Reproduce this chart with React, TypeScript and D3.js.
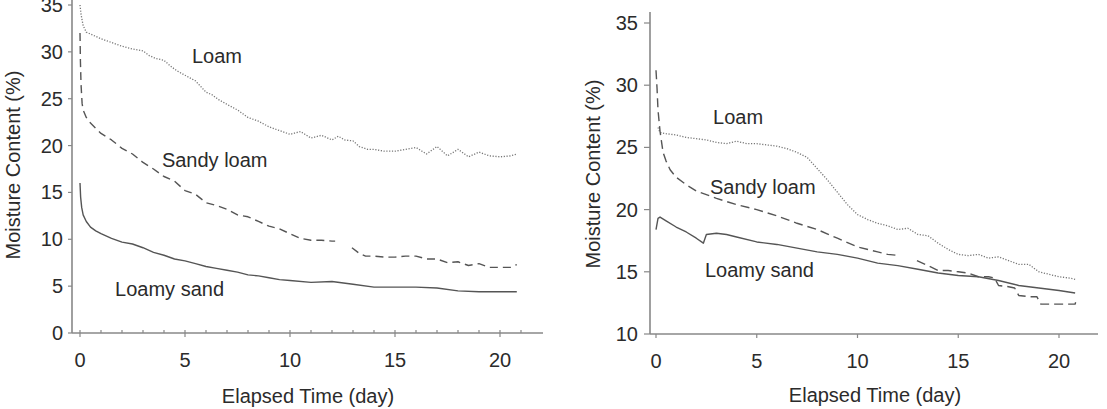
import React, { useEffect, useRef } from "react";
import * as d3 from "d3";

// ---- left panel ----
const leftLoamDays = [0, 0.05, 0.15, 0.3, 0.6, 1, 1.5, 2, 2.5, 3, 3.3, 3.6, 4, 4.3, 4.6, 5, 5.5, 6, 6.3, 6.6, 7, 7.5, 8, 8.5, 9, 9.5, 10, 10.5, 11, 11.5, 12, 12.3, 12.6, 13, 13.3, 13.7, 14, 14.5, 15, 15.5, 16, 16.5, 17, 17.5, 18, 18.5, 19, 19.5, 20, 20.5, 20.8];
const leftLoam = [35, 34, 32.8, 32.1, 31.8, 31.4, 31.0, 30.6, 30.3, 30.1, 29.6, 29.3, 29.1, 28.5, 28.0, 27.5, 26.9, 25.7, 25.4, 24.9, 24.4, 23.8, 23.0, 22.6, 22.0, 21.6, 21.2, 21.5, 20.8, 21.1, 20.6, 21.0, 20.6, 20.5, 19.9, 19.6, 19.6, 19.4, 19.4, 19.6, 19.8, 19.1, 19.9, 18.9, 19.6, 18.8, 19.3, 18.9, 18.8, 18.9, 19.1];

const leftSandyDays = [0, 0.02, 0.05, 0.1, 0.15, 0.3, 0.5, 1, 1.5, 2, 2.5, 3, 3.5, 4, 4.5, 5, 5.5, 6, 6.5, 7, 7.5, 8, 8.5, 9, 9.5, 10, 10.5, 11, 11.5, 12, 12.15, 12.5, 12.95, 13.3, 13.6, 14, 14.5, 15, 15.5, 16, 16.5, 17, 17.5, 18, 18.5, 19, 19.5, 20, 20.5, 20.8];
const leftSandy = [32, 29, 26.5, 24.5, 23.8, 23.0, 22.4, 21.3, 20.6, 19.7, 19.1, 18.2, 17.5, 16.7, 16.2, 15.2, 14.8, 13.9, 13.6, 13.2, 12.6, 12.4, 11.9, 11.4, 11.1, 10.6, 10.1, 9.9, 9.9, 9.8, 9.8, null, 9.1, 8.5, 8.2, 8.2, 8.1, 8.1, 8.2, 8.2, 7.9, 7.9, 7.5, 7.6, 7.2, 7.4, 7.0, 7.0, 7.0, 7.3];

const leftSandDays = [0, 0.03, 0.08, 0.15, 0.3, 0.5, 0.75, 1, 1.5, 2, 2.5, 3, 3.5, 4, 4.5, 5, 5.5, 6, 6.5, 7, 7.5, 8, 8.5, 9, 9.5, 10, 11, 12, 13, 14, 15, 16, 17, 18, 19, 20, 20.8];
const leftSand = [16.0, 14.5, 13.4, 12.6, 11.9, 11.3, 10.9, 10.6, 10.1, 9.7, 9.5, 9.1, 8.6, 8.3, 7.9, 7.7, 7.4, 7.1, 6.9, 6.7, 6.5, 6.2, 6.1, 5.9, 5.7, 5.6, 5.4, 5.5, 5.2, 4.9, 4.9, 4.9, 4.8, 4.5, 4.4, 4.4, 4.4];

// ---- right panel ----
const rightLoamDays = [0.1, 0.2, 0.5, 1, 1.5, 2, 2.5, 3, 3.5, 4, 4.5, 5, 5.5, 6, 6.5, 7, 7.5, 8, 8.5, 9, 9.5, 10, 10.5, 11, 11.5, 12, 12.5, 13, 13.5, 14, 14.5, 15, 15.5, 16, 16.5, 17, 17.5, 18, 18.5, 19, 19.5, 20, 20.5, 20.8];
const rightLoam = [26.6, 26.2, 26.1, 26.0, 25.8, 25.7, 25.6, 25.4, 25.3, 25.5, 25.3, 25.3, 25.2, 25.1, 24.9, 24.6, 24.2, 23.3, 22.4, 21.4, 20.4, 19.6, 19.2, 18.9, 18.7, 18.4, 18.5, 18.0, 17.9, 17.3, 16.8, 16.4, 16.3, 16.4, 16.1, 16.2, 15.9, 15.6, 15.6, 15.0, 14.8, 14.6, 14.5, 14.4];

const rightSandyDays = [0, 0.05, 0.1, 0.2, 0.35, 0.5, 0.7, 1, 1.5, 2, 3, 4, 5, 6, 7, 8, 9, 10, 11, 11.5, 12.1, 12.5, 12.95, 13.5, 14, 14.5, 15, 15.5, 16, 16.5, 16.8, 17.0, 17.5, 17.8, 18.0, 18.5, 18.9, 19.1, 19.5, 20, 20.5, 20.8, 20.85];
const rightSandy = [31.2, 29.8, 28.0, 26.3, 24.6, 23.9, 23.2, 22.6, 22.0, 21.5, 20.9, 20.4, 20.0, 19.5, 18.9, 18.4, 17.7, 17.0, 16.6, 16.4, 16.3, null, 15.9, 15.5, 15.1, 15.1, 15.0, 14.9, 14.6, 14.6, 14.5, 13.9, 13.8, 13.7, 13.1, 13.0, 13.0, 12.4, 12.4, 12.4, 12.4, 12.4, 12.7];

const rightSandDays = [0, 0.1, 0.2, 0.5, 1, 1.5, 2, 2.35, 2.5, 3, 3.5, 4, 5, 6, 7, 8, 9, 10, 11, 12, 13, 14, 15, 16, 17, 18, 19, 20, 20.8];
const rightSand = [18.4, 19.3, 19.4, 19.1, 18.6, 18.2, 17.7, 17.3, 18.0, 18.1, 18.0, 17.8, 17.4, 17.2, 16.9, 16.6, 16.4, 16.1, 15.7, 15.5, 15.2, 14.9, 14.7, 14.6, 14.3, 13.9, 13.7, 13.5, 13.3];

const xTicks = [0, 5, 10, 15, 20];
const leftYTicks = [0, 5, 10, 15, 20, 25, 30, 35];
const rightYTicks = [10, 15, 20, 25, 30, 35];
const soilNames = ["Loam", "Sandy loam", "Loamy sand"];

const FONT = "'Liberation Sans', Arial, sans-serif";
const TEXT = "#2b2b2b";
const AXIS = "#888";
const FS = "20px";

function drawPanel(svg, cfg) {
  const x = d3.scaleLinear().domain([0, 20]).range(cfg.xRange);
  const y = d3.scaleLinear().domain(cfg.yDomain).range(cfg.yRange);
  const g = svg.append("g");
  const base = y(cfg.yDomain[0]);

  // axis lines
  g.append("line")
    .attr("x1", cfg.axisLeft).attr("x2", cfg.axisLeft)
    .attr("y1", cfg.axisTop).attr("y2", base)
    .attr("stroke", AXIS).attr("stroke-width", 1.6);
  g.append("line")
    .attr("x1", cfg.axisLeft).attr("x2", cfg.axisRight)
    .attr("y1", base).attr("y2", base)
    .attr("stroke", AXIS).attr("stroke-width", 1.6);

  // minor ticks (every day), pointing up
  if (cfg.minor) {
    g.selectAll(".minor")
      .data(d3.range(0, 22))
      .enter()
      .append("line")
      .attr("x1", (d) => x(d)).attr("x2", (d) => x(d))
      .attr("y1", base - 3).attr("y2", base)
      .attr("stroke", AXIS).attr("stroke-width", 1.2);
  }

  g.selectAll(".xt")
    .data(xTicks)
    .enter()
    .append("line")
    .attr("x1", (d) => x(d)).attr("x2", (d) => x(d))
    .attr("y1", base).attr("y2", base + 4)
    .attr("stroke", AXIS).attr("stroke-width", 1.2);

  g.selectAll(".xl")
    .data(xTicks)
    .enter()
    .append("text")
    .attr("x", (d) => x(d))
    .attr("y", base + 34)
    .attr("text-anchor", "middle")
    .style("font-family", FONT).style("font-size", FS).attr("fill", TEXT)
    .text((d) => d);

  g.selectAll(".yt")
    .data(cfg.yTicks)
    .enter()
    .append("line")
    .attr("x1", cfg.axisLeft - cfg.ytick).attr("x2", cfg.axisLeft)
    .attr("y1", (d) => y(d)).attr("y2", (d) => y(d))
    .attr("stroke", AXIS).attr("stroke-width", 1.2);

  g.selectAll(".yl")
    .data(cfg.yTicks)
    .enter()
    .append("text")
    .attr("x", cfg.axisLeft - cfg.ytick - cfg.ypad)
    .attr("y", (d) => y(d))
    .attr("dy", "0.35em")
    .attr("text-anchor", "end")
    .style("font-family", FONT).style("font-size", FS).attr("fill", TEXT)
    .text((d) => d);

  // axis titles
  g.append("text")
    .attr("transform", "translate(" + cfg.yLabelX + "," + cfg.yLabelY + ") rotate(-90)")
    .attr("text-anchor", "middle")
    .style("font-family", FONT).style("font-size", FS).attr("fill", TEXT)
    .text("Moisture Content (%)");
  g.append("text")
    .attr("x", cfg.xLabelX).attr("y", cfg.xLabelY)
    .attr("text-anchor", "middle")
    .style("font-family", FONT).style("font-size", FS).attr("fill", TEXT)
    .text("Elapsed Time (day)");

  // series
  const line = d3
    .line()
    .defined((d) => d[1] !== null)
    .x((d) => x(d[0]))
    .y((d) => y(d[1]));

  cfg.series.forEach((s) => {
    const pts = s.days.map((d, i) => [d, s.values[i]]);
    g.append("path")
      .attr("d", line(pts))
      .attr("fill", "none")
      .attr("stroke", s.color)
      .attr("stroke-width", s.width)
      .attr("stroke-dasharray", s.dash)
      .attr("stroke-linejoin", "round");
  });

  // in-plot labels
  cfg.labels.forEach((l, i) => {
    g.append("text")
      .attr("x", x(l[0]))
      .attr("y", y(l[1]))
      .style("font-family", FONT).style("font-size", FS).attr("fill", TEXT)
      .text(soilNames[i]);
  });
}

export default function App() {
  const ref = useRef(null);

  useEffect(() => {
    const svg = d3.select(ref.current);
    svg.selectAll("*").remove();

    drawPanel(svg, {
      xRange: [80, 500],
      yDomain: [0, 35],
      yRange: [333, 5],
      yTicks: leftYTicks,
      axisLeft: 72,
      axisRight: 543,
      axisTop: 0,
      minor: true,
      ytick: 4,
      ypad: 5,
      yLabelX: 20,
      yLabelY: 165,
      xLabelX: 308,
      xLabelY: 403,
      series: [
        { days: leftLoamDays, values: leftLoam, color: "#777", width: 1.3, dash: "1.2 1.6" },
        { days: leftSandyDays, values: leftSandy, color: "#555", width: 1.4, dash: "8 5" },
        { days: leftSandDays, values: leftSand, color: "#555", width: 1.4, dash: null },
      ],
      labels: [[5.33, 28.8], [3.9, 17.7], [1.67, 4.0]],
    });

    drawPanel(svg, {
      xRange: [656, 1059],
      yDomain: [10, 35],
      yRange: [334, 23],
      yTicks: rightYTicks,
      axisLeft: 650,
      axisRight: 1098,
      axisTop: 12,
      minor: false,
      ytick: 6,
      ypad: 6,
      yLabelX: 600,
      yLabelY: 174,
      xLabelX: 875,
      xLabelY: 402,
      series: [
        { days: rightLoamDays, values: rightLoam, color: "#777", width: 1.3, dash: "1.2 1.6" },
        { days: rightSandyDays, values: rightSandy, color: "#555", width: 1.4, dash: "9 5" },
        { days: rightSandDays, values: rightSand, color: "#555", width: 1.4, dash: null },
      ],
      labels: [[2.83, 26.9], [2.68, 21.25], [2.43, 14.58]],
    });
  }, []);

  return (
    <svg
      ref={ref}
      width={1107}
      height={409}
      style={{ position: "absolute", left: 0, top: 0, background: "#fff" }}
    />
  );
}
